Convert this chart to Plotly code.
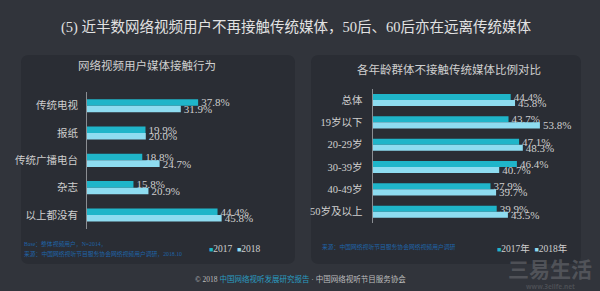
import plotly.graph_objects as go

# ---------------- data ----------------
left_categories = ["传统电视", "报纸", "传统广播电台", "杂志", "以上都没有"]
left_2017 = [37.8, 19.9, 18.8, 15.8, 44.4]
left_2018 = [31.9, 20.0, 24.7, 20.9, 45.8]

right_categories = ["总体", "19岁以下", "20-29岁", "30-39岁", "40-49岁", "50岁及以上"]
right_2017 = [44.4, 43.7, 47.1, 46.4, 37.9, 39.9]
right_2018 = [45.8, 53.8, 48.3, 40.7, 39.7, 43.5]

main_title = "(5) 近半数网络视频用户不再接触传统媒体，50后、60后亦在远离传统媒体"
left_title = "网络视频用户媒体接触行为"
right_title = "各年龄群体不接触传统媒体比例对比"
left_legend = ["2017", "2018"]
right_legend = ["2017年", "2018年"]

# ---------------- style ----------------
W, H = 600, 291
BG = "#31343b"
PANEL = "#2a2d34"
C17 = "#1fb5c9"
C18 = "#8edcf0"
TXT = "#cfcfcf"
SRC = "#1f64a8"
FONT = "Liberation Serif, Noto Sans CJK SC"


def px_x(x):
    return x / W


def px_y(y):
    return 1 - y / H


fig = go.Figure()


def add_pair(cats, v17, v18, xa, ya, width, names):
    for vals, col, nm, off in ((v17, C17, names[0], -width), (v18, C18, names[1], 0.0)):
        fig.add_trace(go.Bar(
            y=cats, x=vals, orientation="h", name=nm,
            marker=dict(color=col, line=dict(width=0)),
            width=width, offset=off,
            text=[f"{v:.1f}%" for v in vals], textposition="outside",
            textfont=dict(family=FONT, size=11, color=TXT),
            constraintext="none", cliponaxis=False,
            xaxis=xa, yaxis=ya, showlegend=False, hoverinfo="skip",
        ))


add_pair(left_categories, left_2017, left_2018, "x", "y", 0.24, left_legend)
add_pair(right_categories, right_2017, right_2018, "x2", "y2", 0.27, right_legend)

# axes placement (pixels)
lx0 = 87
lx1 = lx0 + 60 * 2.94
ly0, ly1 = 92.1, 228.6
rx0 = 372.7
rx1 = rx0 + 60 * 3.108
ry0, ry1 = 88.85, 222.85

axis_common = dict(showgrid=False, zeroline=False, showticklabels=False, fixedrange=True)
fig.update_layout(
    xaxis=dict(domain=[px_x(lx0), px_x(lx1)], range=[0, 60], anchor="y", **axis_common),
    yaxis=dict(domain=[px_y(ly1), px_y(ly0)], range=[4.5, -0.5], anchor="x",
               showgrid=False, zeroline=False, showline=True, linecolor="#8a8d92", linewidth=1,
               ticks="", ticklabelstandoff=6,
               tickfont=dict(family=FONT, size=10.5, color=TXT)),
    xaxis2=dict(domain=[px_x(rx0), px_x(rx1)], range=[0, 60], anchor="y2", **axis_common),
    yaxis2=dict(domain=[px_y(ry1), px_y(ry0)], range=[5.5, -0.5], anchor="x2",
                showgrid=False, zeroline=False, showline=True, linecolor="#8a8d92", linewidth=1,
                ticks="", ticklabelstandoff=7,
                tickfont=dict(family=FONT, size=10.5, color=TXT)),
)


def rounded(x0, y0, x1, y1, r):
    X0, X1 = px_x(x0), px_x(x1)
    Y0, Y1 = px_y(y1), px_y(y0)
    rx, ry = r / W, r / H
    return (f"M{X0+rx},{Y0} L{X1-rx},{Y0} Q{X1},{Y0} {X1},{Y0+ry} L{X1},{Y1-ry} "
            f"Q{X1},{Y1} {X1-rx},{Y1} L{X0+rx},{Y1} Q{X0},{Y1} {X0},{Y1-ry} "
            f"L{X0},{Y0+ry} Q{X0},{Y0} {X0+rx},{Y0} Z")


shapes = [
    dict(type="path", xref="paper", yref="paper", path=rounded(21, 55, 295, 264, 8),
         fillcolor=PANEL, line=dict(width=0), layer="below"),
    dict(type="path", xref="paper", yref="paper", path=rounded(311, 55, 581, 264, 8),
         fillcolor=PANEL, line=dict(width=0), layer="below"),
]


def ann(x, y, text, size, color=TXT, xanchor="center", family=FONT):
    return dict(x=px_x(x), y=px_y(y), xref="paper", yref="paper", text=text, showarrow=False,
                xanchor=xanchor, yanchor="middle", font=dict(family=family, size=size, color=color))


def legend_text(names):
    return (f"<span style='color:{C17};font-size:7px'>■</span>{names[0]}  "
            f"<span style='color:{C18};font-size:7px'>■</span>{names[1]}")


annotations = [
    ann(296, 27.5, main_title, 14.5, "#e2e2e2"),
    ann(147, 65, left_title, 11.5),
    ann(449, 69, right_title, 11.5),
    ann(22, 243.5, "Base：整体视频用户，N=2014，", 5.8, SRC, "left"),
    ann(22, 253.5, "来源：中国网络视听节目服务协会网络视频用户调研，2018.10", 5.8, SRC, "left"),
    ann(320, 246.5, "来源：中国网络视听节目服务协会网络视频用户调研", 5.8, SRC, "left"),
    ann(207, 248.5, legend_text(left_legend), 9.5, TXT, "left"),
    ann(495, 248, legend_text(right_legend), 9.5, TXT, "left"),
    ann(300, 279, "© 2018 <span style='color:#2a9cc0'>中国网络视听发展研究报告</span> · 中国网络视听节目服务协会",
        7.5, "#bdbdbd"),
    ann(550, 268, "<b>三易生活</b>", 21, "rgba(110,112,116,0.55)", family="Noto Sans CJK SC"),
    ann(550, 286, "<b>www.3elife.net</b>", 6.5, "rgba(110,112,116,0.45)", family="Noto Sans"),
]

fig.update_layout(
    width=W, height=H, margin=dict(l=0, r=0, t=0, b=0),
    paper_bgcolor=BG, plot_bgcolor="rgba(0,0,0,0)",
    barmode="overlay", showlegend=False,
    shapes=shapes, annotations=annotations,
    font=dict(family=FONT, color=TXT),
)

fig.write_html("out.html", config={"displayModeBar": False})
